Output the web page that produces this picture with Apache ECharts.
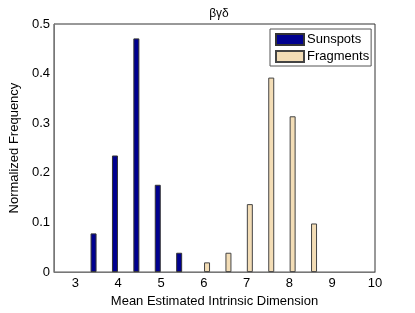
<!DOCTYPE html>
<html>
<head>
<meta charset="utf-8">
<script src="https://cdn.jsdelivr.net/npm/echarts@6/dist/echarts.min.js"></script>
<style>html,body{margin:0;padding:0;background:#fff}#c{width:415px;height:313px}</style>
</head>
<body>
<div id="c"></div>
<script>
const title = 'βγδ';
const xTicks = [3, 4, 5, 6, 7, 8, 9, 10];
const yTicks = [0, 0.1, 0.2, 0.3, 0.4, 0.5];
const sunspotsX = [3.5, 4, 4.5, 5, 5.5];
const sunspotsY = [0.078, 0.235, 0.471, 0.176, 0.039];
const fragmentsX = [6, 6.5, 7, 7.5, 8, 8.5];
const fragmentsY = [0.0196, 0.039, 0.137, 0.392, 0.314, 0.098];

const font = 'Liberation Sans, Arial, Helvetica, sans-serif';
const chart = echarts.init(document.getElementById('c'), null, {renderer: 'canvas'});
chart.setOption({
  animation: false,
  backgroundColor: '#fff',
  title: {
    text: title, left: 214, top: 3, textAlign: 'center',
    textStyle: {fontFamily: font, fontSize: 12, fontWeight: 'normal', color: '#000'}
  },
  legend: {
    orient: 'vertical', left: 270, top: 29,
    icon: 'rect',
    itemWidth: 28, itemHeight: 11, itemGap: 4,
    padding: [4, 2, 3, 5],
    backgroundColor: '#fff', borderColor: '#555', borderWidth: 1,
    textStyle: {fontFamily: font, fontSize: 13, color: '#000', padding: [0, 0, 0, -2]},
    data: ['Sunspots', 'Fragments']
  },
  grid: {left: 54, right: 40, top: 24, bottom: 36, show: true, borderColor: '#333', borderWidth: 1, backgroundColor: 'transparent'},
  xAxis: {
    type: 'value', min: 2.5, max: 10, interval: 0.5,
    name: 'Mean Estimated Intrinsic Dimension', nameLocation: 'middle', nameGap: 20,
    nameTextStyle: {fontFamily: font, fontSize: 13, color: '#000'},
    axisLine: {show: true, onZero: false, lineStyle: {color: '#777'}},
    axisTick: {show: false},
    splitLine: {show: false},
    axisLabel: {
      fontFamily: font, fontSize: 13, color: '#000', margin: 5,
      showMinLabel: false,
      formatter: v => (xTicks.indexOf(v) >= 0 ? String(v) : '')
    }
  },
  yAxis: {
    type: 'value', min: 0, max: 0.5, interval: 0.1,
    name: 'Normalized Frequency', nameLocation: 'middle', nameGap: 30,
    nameTextStyle: {fontFamily: font, fontSize: 13, color: '#000'},
    axisLine: {show: true, lineStyle: {color: '#777'}},
    axisTick: {show: false},
    splitLine: {show: false},
    axisLabel: {
      fontFamily: font, fontSize: 13, color: '#000', margin: 4,
      formatter: v => {
        const i = yTicks.findIndex(t => Math.abs(t - v) < 1e-9);
        return i >= 0 ? (yTicks[i] === 0 ? '0' : String(yTicks[i])) : '';
      }
    }
  },
  series: [
    {
      name: 'Sunspots', type: 'bar', barWidth: 6, barGap: '8%',
      itemStyle: {color: '#00008F', borderColor: '#333', borderWidth: 1},
      data: sunspotsX.map((x, i) => [x, sunspotsY[i]])
    },
    {
      name: 'Fragments', type: 'bar', barWidth: 6, barGap: '8%',
      itemStyle: {color: '#F3DDB6', borderColor: '#444', borderWidth: 1},
      data: fragmentsX.map((x, i) => [x, fragmentsY[i]])
    }
  ]
});
</script>
</body>
</html>
